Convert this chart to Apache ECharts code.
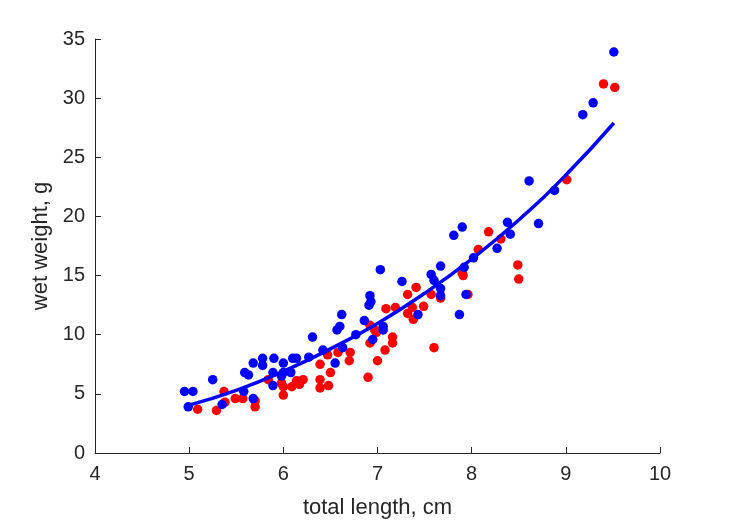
<!DOCTYPE html>
<html><head><meta charset="utf-8">
<script src="https://cdn.jsdelivr.net/npm/echarts@6/dist/echarts.min.js"></script>
<style>html,body{margin:0;padding:0;background:#fff}#c{width:729px;height:521px}</style>
</head><body><div id="c"></div>
<script>
const xTicks = [4,5,6,7,8,9,10];
const yTicks = [0,5,10,15,20,25,30,35];
const bluePoints = [[4.95,5.2],[5.04,5.2],[4.99,3.9],[5.25,6.2],[5.35,4.1],[5.58,5.2],[5.59,6.8],[5.63,6.6],[5.68,7.6],[5.68,4.6],[5.78,8.0],[5.78,7.4],[5.9,8.0],[5.89,6.8],[5.89,5.7],[5.98,6.5],[6.0,7.6],[6.0,6.8],[6.08,6.8],[6.1,8.0],[6.14,8.0],[6.27,8.1],[6.31,9.8],[6.42,8.7],[6.55,7.6],[6.57,10.4],[6.6,10.7],[6.62,11.7],[6.63,8.9],[6.77,10.0],[6.86,11.2],[6.91,12.5],[6.92,13.3],[6.93,12.8],[6.95,9.6],[7.03,15.5],[7.06,10.7],[7.06,10.4],[7.26,14.5],[7.43,11.7],[7.57,15.1],[7.6,14.6],[7.67,15.8],[7.67,13.9],[7.67,13.3],[7.81,18.4],[7.87,11.7],[7.9,19.1],[7.92,15.7],[7.94,13.4],[8.02,16.5],[8.27,17.3],[8.38,19.5],[8.41,18.5],[8.61,23.0],[8.71,19.4],[8.88,22.2],[9.18,28.6],[9.29,29.6],[9.51,33.9]];
const redPoints = [[5.09,3.7],[5.29,3.6],[5.37,5.2],[5.38,4.3],[5.49,4.6],[5.57,4.6],[5.70,3.9],[5.70,4.4],[5.84,6.2],[5.98,5.9],[6.0,4.9],[6.0,5.6],[6.09,5.6],[6.14,6.1],[6.17,5.8],[6.21,6.2],[6.39,7.5],[6.39,6.2],[6.39,5.5],[6.48,5.7],[6.50,6.8],[6.47,8.3],[6.58,8.5],[6.71,8.5],[6.7,7.8],[6.9,6.4],[6.92,10.8],[6.92,9.3],[6.97,10.4],[6.99,10.2],[7.0,7.8],[7.08,8.7],[7.09,12.2],[7.16,9.8],[7.16,9.3],[7.19,12.3],[7.32,13.4],[7.32,11.8],[7.37,12.3],[7.38,11.3],[7.41,14.0],[7.49,12.4],[7.57,13.4],[7.6,8.9],[7.67,13.1],[7.90,15.2],[7.91,15.0],[7.96,13.4],[8.07,17.2],[8.18,18.7],[8.31,18.1],[8.49,15.9],[8.50,14.7],[9.01,23.1],[9.40,31.2],[9.52,30.9]];
const fitX = [4.98,5.5,6,6.5,7,7.5,8,8.5,9,9.51];
const fitY = [4.0,5.3,6.9,8.8,10.95,13.5,16.4,19.7,23.5,27.9];

const chart = echarts.init(document.getElementById('c'), null, {renderer:'canvas'});
const axisCol = '#262626';
const font = '"Liberation Sans", Arial, Helvetica, sans-serif';
chart.setOption({
  animation:false,
  backgroundColor:'#fff',
  grid:{left:95,right:69,top:39,bottom:68,containLabel:false,outerBoundsMode:'none'},
  xAxis:{type:'value',min:xTicks[0],max:xTicks[xTicks.length-1],interval:1,
    name:'total length, cm',nameLocation:'middle',nameGap:44,
    nameTextStyle:{color:axisCol,fontSize:22,fontFamily:font},
    axisLine:{show:true,onZero:false,lineStyle:{color:axisCol,width:1}},
    axisTick:{show:true,inside:true,length:6,lineStyle:{color:axisCol}},
    axisLabel:{color:axisCol,fontSize:20,fontFamily:font,margin:11},
    splitLine:{show:false}},
  yAxis:{type:'value',min:yTicks[0],max:yTicks[yTicks.length-1],interval:5,
    name:'wet weight, g',nameLocation:'middle',nameGap:37,nameRotate:90,
    nameTextStyle:{color:axisCol,fontSize:22,fontFamily:font},
    axisLine:{show:true,onZero:false,lineStyle:{color:axisCol,width:1}},
    axisTick:{show:true,inside:true,length:6,lineStyle:{color:axisCol}},
    axisLabel:{color:axisCol,fontSize:20,fontFamily:font,margin:10},
    splitLine:{show:false}},
  series:[
    {type:'scatter',data:redPoints,symbol:'circle',symbolSize:9.5,itemStyle:{color:'#ff0000',opacity:1},z:2},
    {type:'scatter',data:bluePoints,symbol:'circle',symbolSize:9.5,itemStyle:{color:'#0000ff',opacity:1},z:3},
    {type:'line',data:fitX.map((x,i)=>[x,fitY[i]]),smooth:true,showSymbol:false,symbol:'none',
      lineStyle:{color:'#0000ff',width:3.5},z:4}
  ]
});
</script></body></html>
